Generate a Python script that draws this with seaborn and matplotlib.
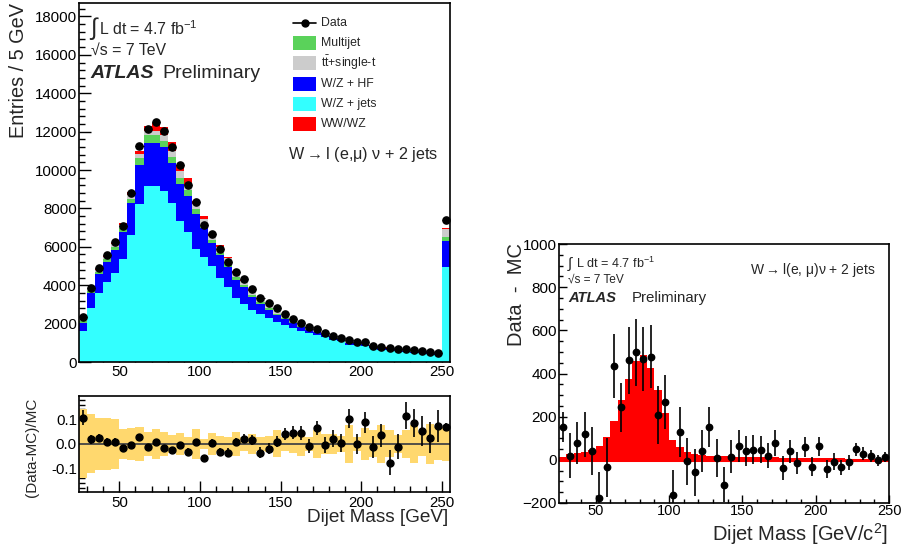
import numpy as np
import pandas as pd
import matplotlib
matplotlib.use("Agg")
import matplotlib.pyplot as plt
import seaborn as sns
from matplotlib.ticker import MultipleLocator, FormatStrFormatter
from matplotlib.patches import Rectangle
from matplotlib.lines import Line2D

# ---------------- data ----------------
bin_low = list(range(25, 255, 5))          # 46 bins, last = 250-255 (overflow)

data_counts = [2360, 3840, 4880, 5570, 6230, 7100, 8820, 11270, 12120, 12480,
               12050, 11210, 10260, 9220, 8330, 7135, 6650, 5870, 5225, 4700,
               4320, 3785, 3350, 3060, 2800, 2500, 2240, 2045, 1840, 1700,
               1495, 1370, 1265, 1145, 1025, 1055, 850, 800, 730, 680,
               680, 625, 590, 540, 485, 7400]

wz_jets = [1615, 2830, 3570, 4150, 4650, 5365, 6615, 8210, 9180, 9160,
           8905, 8260, 7340, 6755, 5900, 5485, 5000, 4355, 3890, 3315,
           3017, 2710, 2482, 2274, 2096, 1927, 1759, 1610, 1491, 1402,
           1283, 1140, 1070, 880, 865, 820, 725, 648, 640, 580,
           513, 483, 470, 441, 378, 4965]
wz_hf = [435, 780, 990, 1040, 1180, 1390, 1645, 2050, 2240, 2260,
         2275, 2080, 1930, 1890, 1800, 1475, 1220, 1220, 1070, 951,
         873, 694, 536, 436, 347, 298, 287, 228, 179, 150,
         159, 140, 130, 110, 108, 100, 90, 82, 80, 73,
         64, 61, 59, 55, 47, 1355]
multijet = [100, 100, 140, 175, 170, 205, 255, 350, 400, 400,
            340, 350, 330, 310, 260, 140, 137, 118, 178, 149,
            119, 89, 89, 90, 70, 60, 45, 40, 40, 20,
            15, 15, 14, 12, 12, 11, 10, 9, 9, 8,
            7, 7, 7, 6, 5, 175]
top_single = [50, 70, 90, 120, 130, 170, 180, 220, 225, 225,
              300, 315, 345, 265, 260, 370, 208, 307, 258, 238,
              208, 218, 208, 168, 138, 108, 94, 80, 110, 40,
              35, 38, 38, 32, 33, 32, 29, 26, 26, 24,
              22, 20, 20, 19, 17, 450]
ww_wz = [10, 20, 30, 40, 45, 90, 140, 150, 255, 385,
         430, 465, 315, 350, 180, 130, 80, 90, 59, 89,
         49, 29, 30, 25, 22, 20, 15, 12, 12, 8,
         8, 7, 8, 6, 7, 7, 6, 5, 5, 5,
         4, 4, 4, 4, 3, 35]

ratio = [0.107, 0.019, 0.023, 0.009, 0.009, -0.018, -0.004, 0.030, -0.014, 0.007,
         -0.016, -0.023, -0.005, -0.031, 0.008, -0.057, 0.005, -0.032, -0.035, 0.008,
         0.022, 0.015, -0.035, -0.019, 0.009, 0.039, 0.046, 0.046, -0.008, 0.065,
         -0.005, 0.022, 0.003, 0.103, -0.001, 0.088, -0.014, 0.036, -0.076, -0.011,
         0.115, 0.084, 0.053, 0.026, 0.073, 0.070]
ratio_err = [0.030, 0.018, 0.017, 0.016, 0.015, 0.014, 0.013, 0.012, 0.011, 0.011,
             0.011, 0.012, 0.012, 0.013, 0.013, 0.014, 0.015, 0.016, 0.017, 0.018,
             0.019, 0.020, 0.021, 0.022, 0.023, 0.024, 0.026, 0.028, 0.029, 0.030,
             0.032, 0.034, 0.036, 0.038, 0.040, 0.042, 0.045, 0.047, 0.050, 0.052,
             0.055, 0.057, 0.060, 0.062, 0.066, 0.014]
syst_band = [0.140, 0.120, 0.107, 0.106, 0.100, 0.060, 0.065, 0.068, 0.050, 0.060,
             0.047, 0.037, 0.044, 0.030, 0.060, 0.020, 0.045, 0.032, 0.028, 0.050,
             0.030, 0.040, 0.027, 0.034, 0.055, 0.030, 0.037, 0.047, 0.027, 0.058,
             0.040, 0.042, 0.034, 0.078, 0.030, 0.064, 0.055, 0.078, 0.055, 0.036,
             0.058, 0.078, 0.047, 0.080, 0.067, 0.070]

# right panel: Data - MC
bin_low_r = list(range(25, 250, 5))        # 45 bins
diff = [152, 20, 78, 118, 40, -175, -35, 433, 243, 461,
        498, 467, 477, 206, 269, -164, 129, -7, -58, 40,
        152, 8, -115, 15, 62, 40, 47, 47, 20, 78,
        -37, 39, -16, 59, -31, 62, -42, -8, -35, -11,
        48, 28, 19, -3, 12]
diff_err = [70, 105, 98, 105, 112, 120, 135, 148, 115, 155,
            154, 148, 146, 134, 125, 115, 115, 110, 110, 97,
            92, 87, 80, 78, 74, 70, 66, 63, 60, 58,
            55, 52, 50, 48, 45, 43, 40, 38, 36, 34,
            32, 30, 28, 26, 24]
ww_signal = [15, 25, 30, 35, 45, 65, 105, 180, 275, 374,
             460, 488, 425, 324, 215, 90, 59, 36, 28, 23,
             20, 18, 17, 16, 15, 14, 13, 12, 12, 11,
             10, 10, 9, 9, 8, 8, 7, 7, 7, 6,
             6, 6, 5, 5, 5]

process_names = ['WW/WZ', 'top', 'Multijet', 'W/Z + HF', 'W/Z + jets']
process_colors = ['#FF0000', '#CCCCCC', '#5AD25A', '#0000FF', '#33FFFF']

# ---------------- style ----------------
sns.set_style("ticks")
plt.rcParams['font.family'] = ['Liberation Sans', 'DejaVu Sans']
plt.rcParams['mathtext.default'] = 'regular'

W, H = 902, 547
fig = plt.figure(figsize=(W / 100, H / 100), dpi=100)
fig.patch.set_facecolor('white')


def rect(l, t, r, b):
    return [l / W, 1 - b / H, (r - l) / W, (b - t) / H]


def ft(px, py, s, **kw):
    return fig.text(px / W, 1 - py / H, s, **kw)


ax1 = fig.add_axes(rect(79, 3, 450, 362))
ax2 = fig.add_axes(rect(79, 395.7, 450, 491.7))
ax3 = fig.add_axes(rect(559, 244, 889, 503))

centers = np.array(bin_low, dtype=float) + 2.5
centers_r = np.array(bin_low_r, dtype=float) + 2.5

# ---------------- main stacked histogram ----------------
comp = [ww_wz, top_single, multijet, wz_hf, wz_jets]
df = pd.DataFrame({
    'mass': np.tile(centers, len(comp)),
    'count': np.concatenate([np.array(c, float) for c in comp]),
    'process': np.repeat(process_names, len(centers)),
})
sns.histplot(data=df, x='mass', weights='count', hue='process',
             hue_order=process_names, palette=dict(zip(process_names, process_colors)),
             multiple='stack', binwidth=5, binrange=(25, 255), element='step',
             fill=True, alpha=1, linewidth=0, legend=False, ax=ax1)
ax1.errorbar(centers, data_counts, xerr=2.5, fmt='o', color='black', ms=5.2,
             lw=0.8, capsize=0, zorder=5)
ax1.set_xlim(25, 255)
ax1.set_ylim(0, 18700)
ax1.set_xlabel('')
ax1.set_ylabel('')
ax1.yaxis.set_major_locator(MultipleLocator(2000))
ax1.yaxis.set_minor_locator(MultipleLocator(400))

# ---------------- ratio panel ----------------
band = np.array(syst_band)
ax2.bar(centers, 2 * band, bottom=-band, width=5, color='#FFD86E', linewidth=0, zorder=1)
ax2.axhline(0, color='#444444', lw=1.3, zorder=2)
ax2.errorbar(centers, ratio, yerr=ratio_err, fmt='o', color='black', ms=5,
             lw=1.2, capsize=0, zorder=5)
ax2.set_xlim(25, 255)
ax2.set_ylim(-0.194, 0.196)
ax2.yaxis.set_major_locator(MultipleLocator(0.1))
ax2.yaxis.set_minor_locator(MultipleLocator(0.02))
ax2.yaxis.set_major_formatter(FormatStrFormatter('%.1f'))

# ---------------- right panel ----------------
df_r = pd.DataFrame({'mass': centers_r, 'excess': np.array(ww_signal, float)})
sns.histplot(data=df_r, x='mass', weights='excess', binwidth=5, binrange=(25, 250),
             element='step', fill=True, color='#FF0000', alpha=1, linewidth=0, ax=ax3)
ax3.axhline(0, color='#FF0000', lw=2.2, zorder=2)
ax3.errorbar(centers_r, diff, yerr=diff_err, fmt='o', color='black', ms=4.6,
             lw=1.2, capsize=0, zorder=5)
ax3.set_xlim(25, 250)
ax3.set_ylim(-200, 1000)
ax3.set_xlabel('')
ax3.set_ylabel('')
ax3.yaxis.set_major_locator(MultipleLocator(200))
ax3.yaxis.set_minor_locator(MultipleLocator(50))

for ax in (ax1, ax2, ax3):
    ax.xaxis.set_major_locator(MultipleLocator(50))
    ax.xaxis.set_minor_locator(MultipleLocator(10))
    ax.set_facecolor('white')
    ax.tick_params(which='both', direction='in', top=False, right=False,
                   left=True, bottom=True, colors='black', labelsize=10.8)
    for s in ax.spines.values():
        s.set_visible(True)
        s.set_color('black')
        s.set_linewidth(1.2)

ax1.tick_params(which='major', length=8.5, width=1, pad=1.5)
ax1.tick_params(which='minor', length=4.3, width=1)
ax1.tick_params(axis='x', pad=2)
ax2.tick_params(which='major', length=8, width=1)
ax2.tick_params(which='minor', length=4, width=1)
ax2.tick_params(axis='y', pad=1.5)
ax2.tick_params(axis='x', pad=3)
ax3.tick_params(which='major', length=6, width=1, labelsize=11)
ax3.tick_params(which='minor', length=3, width=1)
ax3.tick_params(axis='y', pad=1.5)
ax3.tick_params(axis='x', pad=1, labelsize=10.5)

# ---------------- texts main panel ----------------
ft(19, 3, 'Entries / 5 GeV', rotation=90, fontsize=14.3, ha='center', va='top')
ft(93, 29, '\u222b', fontsize=17, ha='center', va='center')
ft(99, 29, 'L dt = 4.7 fb$^{-1}$', fontsize=11.4, ha='left', va='center')
ft(91, 50, '\u221as = 7 TeV', fontsize=11.4, ha='left', va='center')
ft(90, 74, 'ATLAS', fontsize=14, fontweight='bold', fontstyle='italic', ha='left', va='center')
ft(162, 74, 'Preliminary', fontsize=14, ha='left', va='center')
ft(288, 155, 'W$\\rightarrow$l (e,\u03bc) \u03bd + 2 jets', fontsize=11.6, ha='left', va='center')

legend_labels = ['Data', 'Multijet', 't$\\bar{t}$+single-t', 'W/Z + HF', 'W/Z + jets', 'WW/WZ']
legend_colors = [None, '#5AD25A', '#CCCCCC', '#0000FF', '#33FFFF', '#FF0000']
for i, (lab, col) in enumerate(zip(legend_labels, legend_colors)):
    cy = 22.7 + i * 20.3
    if col is None:
        fig.add_artist(Line2D([293 / W, 316 / W], [1 - cy / H, 1 - cy / H],
                              color='black', lw=1.2, transform=fig.transFigure))
        fig.add_artist(Line2D([304.5 / W], [1 - cy / H], marker='o', ms=5,
                              color='black', transform=fig.transFigure))
    else:
        fig.add_artist(Rectangle((293 / W, 1 - (cy + 7) / H), 23 / W, 14 / H,
                                 facecolor=col, edgecolor='none', transform=fig.transFigure))
    ft(320.7, cy, lab, fontsize=8.8, ha='left', va='center')

# ---------------- ratio labels ----------------
ft(32.5, 447.5, '(Data-MC)/MC', rotation=90, fontsize=11, ha='center', va='center')
ft(448, 517, 'Dijet Mass [GeV]', fontsize=13.7, ha='right', va='center')

# ---------------- right panel texts ----------------
ft(516.5, 243, 'Data  -  MC', rotation=90, fontsize=14.5, ha='center', va='top')
ft(888, 534, 'Dijet Mass [GeV/c$^{2}$]', fontsize=14.5, ha='right', va='center')
ft(569.5, 264, '\u222b', fontsize=11, ha='center', va='center')
ft(576, 263, 'L dt = 4.7 fb$^{-1}$', fontsize=9.1, ha='left', va='center')
ft(568, 279.5, '\u221as = 7 TeV', fontsize=8.6, ha='left', va='center')
ft(568, 298, 'ATLAS', fontsize=10.6, fontweight='bold', fontstyle='italic', ha='left', va='center')
ft(632, 298, 'Preliminary', fontsize=10.8, ha='left', va='center')
ft(750, 270, 'W$\\rightarrow$l(e, \u03bc)\u03bd + 2 jets', fontsize=10, ha='left', va='center')

fig.savefig('out.png', dpi=100, facecolor='white')
